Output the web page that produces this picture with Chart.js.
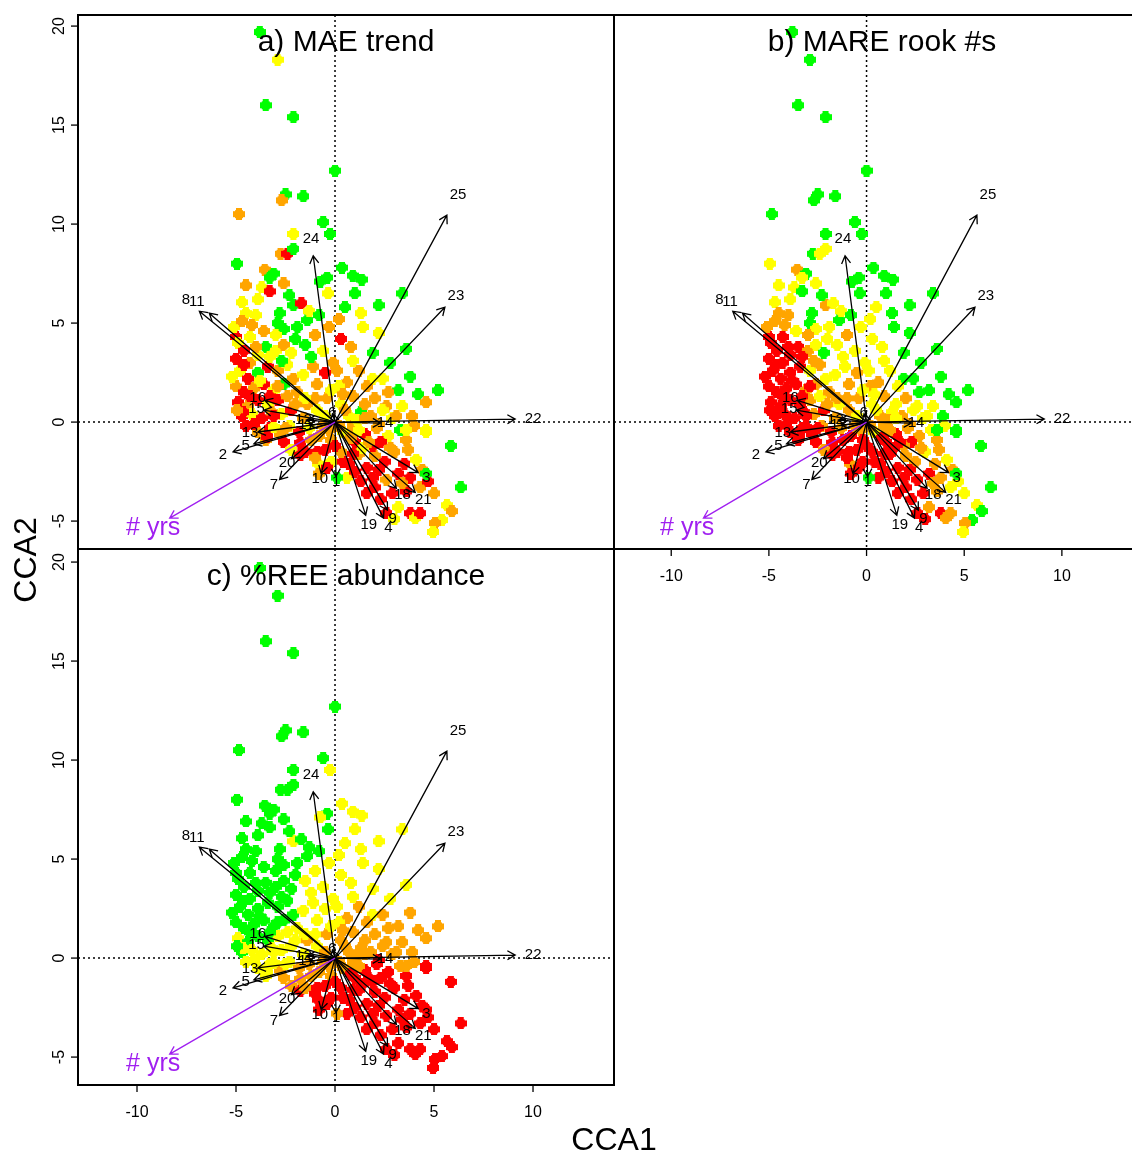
<!DOCTYPE html>
<html>
<head>
<meta charset="utf-8">
<script src="https://cdn.jsdelivr.net/npm/chart.js@4.4.1/dist/chart.umd.min.js"></script>
<style>
  body { margin: 0; background: #fff; }
  #wrap { position: relative; width: 1139px; height: 1157px; }
  #wrap canvas { position: absolute; left: 0; top: 0; }
</style>
</head>
<body>
<div id="wrap">
  <canvas id="pa" width="1139" height="1157"></canvas>
  <canvas id="pb" width="1139" height="1157"></canvas>
  <canvas id="pc" width="1139" height="1157"></canvas>
</div>
<script>
// site scores (CCA1, CCA2), same ordination in all three panels
var siteX = [
  -3.8,-2.9,-3.5,-2.1,0.0,-2.5,-2.7,-1.6,-4.85,-0.6,-0.25,-2.1,-2.75,-2.4,-2.1,-4.95,0.35,-3.55,-3.1,-3.3,-0.4,-0.75,0.9,1.35,
  -4.5,-2.6,-3.7,-3.3,-0.35,-4.7,-2.1,-1.7,-2.8,-4.5,-4.0,-1.4,-1.3,1.0,0.5,3.4,1.3,2.2,0.2,-0.8,
  -2.9,-2.6,-5.0,-4.3,-4.9,-4.6,-3.6,-3.0,-4.2,-2.0,-3.5,-3.0,-2.6,-2.2,-1.5,-1.0,-0.6,0.3,0.8,2.2,1.9,3.6,2.8,1.4,-0.3,
  -5.0,-4.3,-3.9,-4.8,-4.4,-3.9,-3.4,-2.9,-2.4,-5.0,-4.6,-4.1,-3.6,-3.1,-2.6,-2.1,-1.6,-1.1,-0.5,-0.1,0.6,1.2,1.9,2.4,3.2,4.2,1.6,0.2,-0.9,
  -4.9,-4.4,-3.9,-3.4,-2.9,-2.4,-1.9,-4.7,-4.2,-3.7,-3.2,-2.7,-2.2,-1.4,-0.9,-0.4,0.3,0.9,1.3,2.0,2.6,3.4,4.6,5.2,3.9,2.9,1.8,0.7,-1.6,
  -4.5,-3.9,-3.3,-2.8,-2.3,-1.8,-1.3,-0.8,-0.3,0.4,0.9,1.5,2.1,2.7,3.3,4.0,4.6,3.6,2.3,1.0,-0.2,-3.5,-2.6,5.85,
  -4.65,-3.1,-3.45,-1.75,-2.2,-1.75,-0.9,-0.85,0.4,
  -1.5,-1.0,-0.5,-0.2,0.3,0.7,1.2,1.6,2.0,2.5,3.0,3.5,4.4,3.8,3.2,2.6,1.9,1.3,0.6,-0.8,0.1,4.3,3.6,2.9,2.3,1.6,3.2,2.6,3.0,6.35,5.65,5.9,5.4,5.05,4.95,3.8,4.05,4.7,3.7,4.1,4.6,4.6,3.6,
  -1.0,-0.5,0.2,0.5,1.1,1.5,-0.2,0.8,1.9,2.4,-1.2,1.4,2.8,3.1,-0.6,
  -5.2,-4.95,-4.3,-3.8,-3.3,-2.9,-4.6,-4.0,-3.3,-2.7,-5.1,-4.7,-3.1,-2.5,-4.1,-1.5,-2.0,-1.2,-1.9,-3.9,-2.3,
  0.1,0.9,1.5,2.2,1.2,0.4,2.7,3.8,
  0.0,0.9,1.7,2.2,3.4,1.0,-0.4,2.0,5.0,4.3
];
var siteY = [
  19.7,18.3,16.0,15.4,12.7,11.5,11.2,11.4,10.5,10.1,9.5,9.5,8.5,8.5,8.75,8.0,7.8,7.7,7.5,7.3,7.3,7.1,7.4,7.2,
  6.9,7.0,6.8,6.6,6.5,6.05,5.9,6.0,5.5,5.5,5.4,5.15,5.6,6.5,5.8,6.5,5.5,5.9,5.2,5.4,
  5.0,4.7,4.3,4.3,4.0,3.6,4.6,4.4,4.9,4.2,3.8,3.6,3.9,3.5,3.9,4.4,3.6,4.2,3.8,4.5,3.5,3.7,3.0,4.8,4.8,
  3.2,3.0,3.4,2.6,2.2,2.5,2.8,2.6,2.9,1.8,1.5,1.7,1.9,1.6,1.9,2.2,2.4,2.8,2.5,3.0,2.0,2.6,2.2,2.2,1.6,1.4,1.8,1.8,1.9,
  1.0,0.8,1.1,0.9,1.1,1.3,1.5,0.3,0.4,0.2,0.5,0.4,0.6,0.9,0.6,1.2,0.9,1.3,0.5,1.2,0.8,0.8,1.0,1.6,0.3,0.2,0.3,0.3,0.2,
  -0.2,-0.5,-0.3,-0.6,-0.2,-0.5,-0.3,-0.7,-0.4,-0.5,-0.2,-0.6,-0.3,-0.7,-0.4,-0.2,-0.5,-0.9,-1.0,-1.0,-0.9,-0.9,-1.0,-1.2,
  0.5,-0.25,-0.75,-1.05,-1.4,-1.65,-1.5,-2.1,-2.0,
  -1.5,-1.8,-1.4,-2.0,-1.5,-2.1,-1.6,-2.3,-1.7,-2.0,-1.5,-2.1,-2.4,-2.8,-2.6,-2.9,-2.8,-3.0,-2.8,-2.6,-2.8,-3.3,-3.5,-3.6,-3.9,-3.6,-4.3,-4.6,-4.9,-3.3,-4.2,-4.5,-4.95,-5.1,-5.55,-4.6,-4.85,-3.0,-1.4,-1.9,-2.6,-0.4,-0.4,
  1.2,0.3,-0.2,0.6,0.1,0.9,1.6,-0.8,-1.2,0.6,-0.9,-1.3,-1.3,0.3,-0.2,
  2.3,0.6,1.3,2.1,1.3,1.8,2.9,3.8,3.3,3.1,4.8,5.1,0.3,-0.3,-0.1,1.2,0.9,3.3,4.8,6.2,6.4,
  2.6,3.1,0.2,-0.1,-0.4,1.4,1.5,2.3,
  -1.2,-1.6,-1.0,-2.4,-3.1,-2.5,-2.3,-3.3,-3.6,-4.6
];

// colour class of each site per panel: r red, o orange, y yellow, g green
var colA = ("gyggggogoggyorgggogggggg" + "ooyryygrgyygygggygog" + "ggryyroyoggyoygoyroygggyo" +
  "royyrgroyororygoyoroooyyggoyo" + "roryrooryroyroyoyogooyogoyoyo" + "roroyryooyoroygoyorroorg" +
  "ryrryrryr" + "roryororor" + "ororrorryo" + "gorrrryryg" + "yoyoyryroy" + "gyy" + "oyooyoyoryoyooo" +
  "yoryroroygyororyoggyg" + "oyooyoog" + "rrororrror").split("");
var colB = ("gggggggggggggyyygogygggg" + "yyyggyoygoogygygggyg" + "gyrrrryooyroygyoyyygggggy" +
  "rrrrrrryorrrrooyyyoyoyggggyoo" + "rrrroyorrrroryooyoyoyygggyooo" + "rrrrororoyorooyygorrrrrg" +
  "rrrrorror" + "rrrrrrrroo" + "yooorrrrrr" + "gyorrrorrg" + "yggoyroyoy" + "ggg" + "oyoyoyyroyrroyo" +
  "rrrrrrrrrooorrrooyyyg" + "yyyooygg" + "rrrrorrryo").split("");
var colC = ("ggggggggggygggggyggggyyy" + "ggggggyggggggyyyyyyg" + "ggggggggggggggyyyyyyyyyyy" +
  "ggggggggggggggggyyyyooyooooyy" + "ygggyyygyyyyyoyoooooooooooooy" + "yyyoyoooooorrroorrrroyor" +
  "yyyoorrrr" + "orrrrrrrrr" + "rrrrrrrrrr" + "orrrrrrrrr" + "rrrrrrrrrr" + "rro" + "yoooooyrroorroo" +
  "ggggggggggggyyyyyyggg" + "yyoroooo" + "rrrrrrrrrr").split("");

// environmental arrows (biplot scores)
var arrowLabels = ["1","2","3","4","5","6","7","8","9","10","11","12","13","14","15","16","17","18","19","20","21","22","23","24","25"];
var arrowX = [0.05,-5.15,4.2,2.45,-4.1,-0.13,-2.8,-6.85,2.65,-0.7,-6.35,-1.45,-3.9,2.3,-3.6,-3.55,-1.3,3.1,1.55,-2.2,4.05,9.1,5.55,-1.1,5.65];
var arrowY = [-2.75,-1.5,-2.55,-4.85,-1.1,0.42,-2.9,5.6,-4.45,-2.6,5.5,0.1,-0.5,-0.05,0.6,1.1,-0.15,-3.35,-4.7,-1.85,-3.55,0.15,5.8,8.4,10.45];
var yrsLabel = "# yrs";
var yrsX = -8.35, yrsY = -4.85;

var xTicks = [-10, -5, 0, 5, 10];
var yTicks = [-5, 0, 5, 10, 15, 20];

var W = 1139, H = 1157;
var FONT = "'Liberation Sans', Arial, sans-serif";
var palette = { r: "#FF0000", o: "#FFA500", y: "#FFFF00", g: "#00FF00" };

// chunky plus-shaped symbol like the R plot
function makeMarker(color) {
  var c = document.createElement("canvas");
  c.width = 12; c.height = 12;
  var g = c.getContext("2d");
  g.fillStyle = color;
  g.fillRect(3, 0, 6, 12);
  g.fillRect(0, 3, 12, 6);
  g.fillRect(2, 2, 8, 8);
  return c;
}
var markers = {};
for (var k in palette) markers[k] = makeMarker(palette[k]);

function arrow(ctx, x0, y0, x1, y1, color) {
  var ang = Math.atan2(y1 - y0, x1 - x0), len = 9, spread = Math.PI / 6;
  ctx.strokeStyle = color;
  ctx.beginPath();
  ctx.moveTo(x0, y0); ctx.lineTo(x1, y1);
  ctx.moveTo(x1 - len * Math.cos(ang - spread), y1 - len * Math.sin(ang - spread));
  ctx.lineTo(x1, y1);
  ctx.lineTo(x1 - len * Math.cos(ang + spread), y1 - len * Math.sin(ang + spread));
  ctx.stroke();
}

function makePlugin(p) {
  return {
    id: "biplot_" + p.id,
    beforeDatasetsDraw: function(chart) {
      var ctx = chart.ctx, a = chart.chartArea, xs = chart.scales.x, ys = chart.scales.y;
      var x0 = xs.getPixelForValue(0), y0 = ys.getPixelForValue(0);
      ctx.save();
      ctx.beginPath(); ctx.rect(a.left, a.top, a.right - a.left, a.bottom - a.top); ctx.clip();
      ctx.setLineDash([2, 3]);
      ctx.lineWidth = 1.5;
      ctx.strokeStyle = "#000";
      ctx.beginPath();
      ctx.moveTo(a.left, y0); ctx.lineTo(a.right, y0);
      ctx.moveTo(x0, a.top); ctx.lineTo(x0, a.bottom);
      ctx.stroke();
      ctx.restore();
    },
    afterDatasetsDraw: function(chart) {
      var ctx = chart.ctx, a = chart.chartArea, xs = chart.scales.x, ys = chart.scales.y;
      var x0 = xs.getPixelForValue(0), y0 = ys.getPixelForValue(0);
      ctx.save();
      ctx.beginPath(); ctx.rect(a.left, a.top, a.right - a.left, a.bottom - a.top); ctx.clip();
      ctx.lineWidth = 1.3;
      for (var i = 0; i < arrowLabels.length; i++) {
        arrow(ctx, x0, y0, xs.getPixelForValue(arrowX[i]), ys.getPixelForValue(arrowY[i]), "#000");
      }
      arrow(ctx, x0, y0, xs.getPixelForValue(yrsX), ys.getPixelForValue(yrsY), "#A020F0");
      ctx.textAlign = "center";
      ctx.textBaseline = "middle";
      ctx.fillStyle = "#000";
      ctx.font = "15px " + FONT;
      for (var j = 0; j < arrowLabels.length; j++) {
        ctx.fillText(arrowLabels[j], xs.getPixelForValue(arrowX[j] * 1.1), ys.getPixelForValue(arrowY[j] * 1.1));
      }
      ctx.fillStyle = "#A020F0";
      ctx.font = "25px " + FONT;
      ctx.fillText(yrsLabel, xs.getPixelForValue(yrsX * 1.1), ys.getPixelForValue(yrsY * 1.1));
      ctx.fillStyle = "#000";
      ctx.font = "30px " + FONT;
      ctx.fillText(p.title, p.titleX, a.top + 28);
      ctx.restore();

      // frame
      ctx.save();
      ctx.strokeStyle = "#000";
      ctx.lineWidth = 2;
      ctx.beginPath();
      ctx.moveTo(a.right, a.top); ctx.lineTo(a.left, a.top); ctx.lineTo(a.left, a.bottom); ctx.lineTo(a.right, a.bottom);
      if (p.rightEdge) ctx.lineTo(a.right, a.top);
      ctx.stroke();

      ctx.lineWidth = 1.3;
      ctx.fillStyle = "#000";
      ctx.font = "16px " + FONT;
      ctx.textAlign = "center";
      ctx.textBaseline = "middle";
      if (p.yAxis) {
        yTicks.forEach(function(v) {
          var py = ys.getPixelForValue(v);
          ctx.beginPath(); ctx.moveTo(a.left, py); ctx.lineTo(a.left - 7, py); ctx.stroke();
          ctx.save();
          ctx.translate(a.left - 18, py);
          ctx.rotate(-Math.PI / 2);
          ctx.fillText(String(v), 0, 0);
          ctx.restore();
        });
      }
      if (p.xAxis) {
        xTicks.forEach(function(v) {
          var px = xs.getPixelForValue(v);
          ctx.beginPath(); ctx.moveTo(px, a.bottom); ctx.lineTo(px, a.bottom + 7); ctx.stroke();
          ctx.fillText(String(v), px, a.bottom + 28);
        });
      }
      if (p.axisTitles) {
        ctx.font = "32px " + FONT;
        ctx.fillText("CCA1", 614, a.bottom + 56);
        ctx.save();
        ctx.translate(27, 560);
        ctx.rotate(-Math.PI / 2);
        ctx.fillText("CCA2", 0, 0);
        ctx.restore();
      }
      ctx.restore();
    }
  };
}

var panels = [
  { id: "pa", title: "a) MAE trend", cols: colA, box: [78, 15, 614, 549], xr: [-12.98, 14.09], yr: [-6.41, 20.56],
    titleX: 346, yAxis: true, xAxis: false, rightEdge: true, axisTitles: false },
  { id: "pb", title: "b) MARE rook #s", cols: colB, box: [614, 15, 1139, 549], xr: [-12.93, 13.59], yr: [-6.41, 20.56],
    titleX: 882, yAxis: false, xAxis: true, rightEdge: false, axisTitles: false },
  { id: "pc", title: "c) %REE abundance", cols: colC, box: [78, 549, 614, 1085], xr: [-12.98, 14.09], yr: [-6.41, 20.66],
    titleX: 346, yAxis: true, xAxis: true, rightEdge: true, axisTitles: true }
];

panels.forEach(function(p) {
  var pts = [], styles = [];
  for (var i = 0; i < siteX.length; i++) {
    pts.push({ x: siteX[i], y: siteY[i] });
    styles.push(markers[p.cols[i]] || markers.r);
  }
  new Chart(document.getElementById(p.id), {
    type: "scatter",
    data: {
      datasets: [{
        data: pts,
        pointStyle: styles,
        pointRadius: 6,
        pointHoverRadius: 6,
        clip: 0
      }]
    },
    options: {
      responsive: false,
      animation: false,
      events: [],
      layout: { padding: { left: p.box[0], top: p.box[1], right: W - p.box[2], bottom: H - p.box[3] } },
      scales: {
        x: { type: "linear", min: p.xr[0], max: p.xr[1], display: false },
        y: { type: "linear", min: p.yr[0], max: p.yr[1], display: false }
      },
      plugins: { legend: { display: false }, tooltip: { enabled: false } }
    },
    plugins: [makePlugin(p)]
  });
});
</script>
</body>
</html>
